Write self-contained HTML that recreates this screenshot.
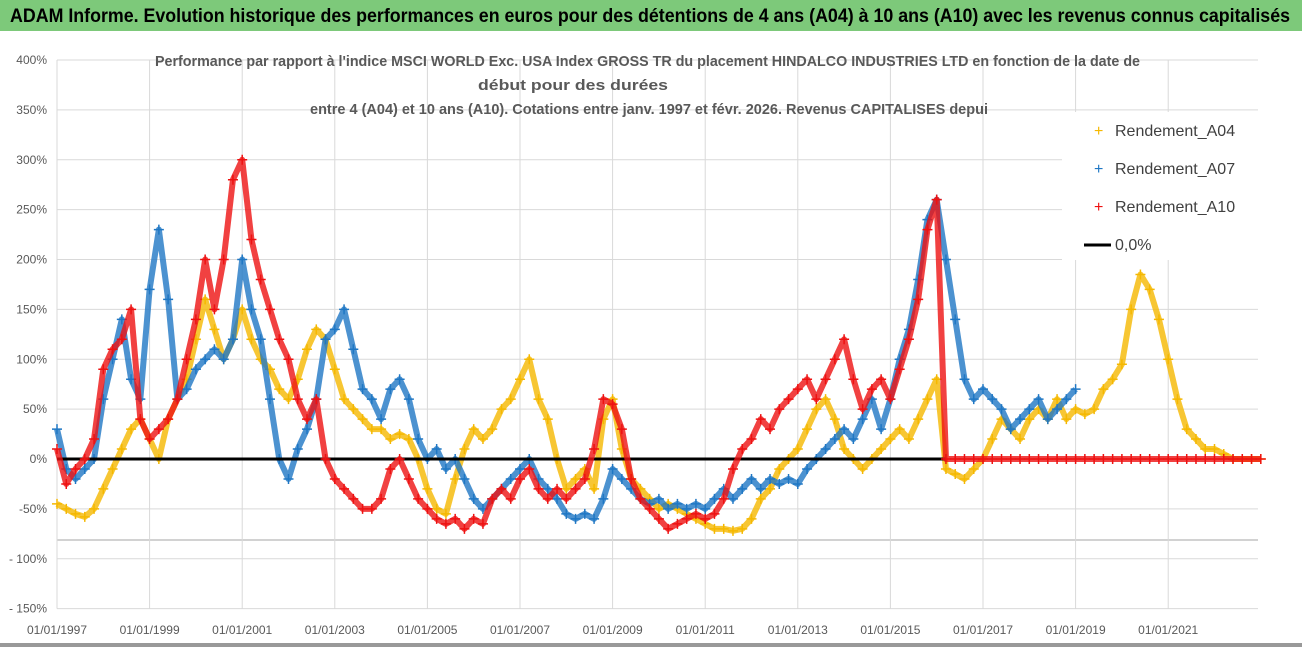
<!DOCTYPE html>
<html><head><meta charset="utf-8"><style>
body{margin:0;background:#fff;width:1302px;height:647px;overflow:hidden;font-family:"Liberation Sans Narrow","Liberation Sans",sans-serif}
</style></head><body>
<svg id="chart" width="1302" height="647" xmlns="http://www.w3.org/2000/svg" font-family="Liberation Sans Narrow, Liberation Sans, sans-serif">
<rect x="0" y="0" width="1302" height="647" fill="#fff"/>
<rect x="0" y="0" width="1302" height="31" fill="#7dc97a"/>
<text x="10" y="22" font-size="19" font-weight="bold" fill="#000" textLength="1280" lengthAdjust="spacingAndGlyphs">ADAM Informe. Evolution historique des performances en euros pour des détentions de 4 ans (A04) à 10 ans (A10) avec les revenus connus capitalisés</text>
<rect x="0" y="643" width="1302" height="4" fill="#999"/>
<g id="grid"></g>
<g id="yaxis"></g>
<g id="xaxis"></g>
<g id="series"></g>
<g font-size="15" font-weight="bold" fill="#595959">
<text x="155" y="66" textLength="985" lengthAdjust="spacingAndGlyphs">Performance par rapport à l'indice MSCI WORLD Exc. USA Index GROSS TR  du placement HINDALCO INDUSTRIES LTD en fonction de la date de</text>
<text x="478" y="90" textLength="190" lengthAdjust="spacingAndGlyphs">début pour des durées</text>
<text x="310" y="114" textLength="678" lengthAdjust="spacingAndGlyphs">entre 4 (A04) et 10 ans (A10). Cotations entre janv. 1997 et févr. 2026. Revenus CAPITALISES depui</text>
</g>
<g>
<rect x="1062" y="112" width="230" height="148" fill="#fff"/>
<g><text x="1094" y="136" font-size="16" fill="#f5b800">+</text><text x="1115" y="136" font-size="16" fill="#404040">Rendement_A04</text></g>
<g><text x="1094" y="174" font-size="16" fill="#1f77c4">+</text><text x="1115" y="174" font-size="16" fill="#404040">Rendement_A07</text></g>
<g><text x="1094" y="212" font-size="16" fill="#ee1111">+</text><text x="1115" y="212" font-size="16" fill="#404040">Rendement_A10</text></g>
<g><line x1="1084" y1="245" x2="1111" y2="245" stroke="#000" stroke-width="3"/><text x="1115" y="250" font-size="16" fill="#404040">0,0%</text></g>
</g>
</svg>
<script>
const startYear = 1997;
const stepYear = 0.2;
const yTicks = [400,350,300,250,200,150,100,50,0,-50,-100,-150];
const yTickLabels = ["400%","350%","300%","250%","200%","150%","100%","50%","0%","-50%","- 100%","- 150%"];
const xTickYears = [1997,1999,2001,2003,2005,2007,2009,2011,2013,2015,2017,2019,2021];
const xTickLabels = xTickYears.map(y=>"01/01/"+y);
const a04 = [-45,-50,-55,-58,-50,-30,-10,10,30,40,20,0,40,60,80,120,160,130,100,120,150,120,100,90,70,60,80,110,130,120,90,60,50,40,30,30,20,25,20,0,-30,-50,-55,-20,10,30,20,30,50,60,80,100,60,40,0,-30,-20,-10,-30,40,60,10,-20,-30,-40,-50,-45,-50,-55,-60,-65,-70,-70,-72,-70,-60,-40,-30,-10,0,10,30,50,60,40,10,0,-10,0,10,20,30,20,40,60,80,-10,-15,-20,-10,0,20,40,30,20,40,50,40,60,40,50,45,50,70,80,95,150,185,170,140,100,60,30,20,10,10,5,0,0,0,0];
const a07 = [30,-10,-20,-10,0,60,100,140,80,60,170,230,160,60,70,90,100,110,100,120,200,150,120,60,0,-20,10,30,60,120,130,150,110,70,60,40,70,80,60,20,0,10,-10,0,-20,-40,-50,-40,-30,-20,-10,0,-20,-30,-40,-55,-60,-55,-60,-40,-10,-20,-30,-40,-45,-40,-50,-45,-50,-45,-50,-40,-30,-40,-30,-20,-30,-20,-25,-20,-25,-10,0,10,20,30,20,40,60,30,60,100,130,180,240,260,200,140,80,60,70,60,50,30,40,50,60,40,50,60,70];
const a10 = [10,-25,-10,0,20,90,110,120,150,40,20,30,40,60,100,140,200,150,200,280,300,220,180,150,120,100,60,40,60,0,-20,-30,-40,-50,-50,-40,-10,0,-20,-40,-50,-60,-65,-60,-70,-60,-65,-40,-30,-40,-20,-10,-30,-40,-30,-40,-30,-20,10,60,55,30,-20,-40,-50,-60,-70,-65,-60,-55,-60,-55,-40,-10,10,20,40,30,50,60,70,80,60,80,100,120,80,50,70,80,60,90,120,160,230,260,0,0,0,0,0,0,0,0,0,0,0,0,0,0,0,0,0,0,0,0,0,0,0,0,0,0,0,0,0,0,0,0,0,0,0];

const NS="http://www.w3.org/2000/svg";
const X0=57, PXY=46.3, Y0=459, PXV=0.9975, XR=1258;
const xS = t => X0 + (t-startYear)*PXY;
const yS = v => Y0 - v*PXV;
function mk(tag, attrs, parent){const e=document.createElementNS(NS,tag);for(const k in attrs)e.setAttribute(k,attrs[k]);parent.appendChild(e);return e;}
const grid=document.getElementById('grid'), ya=document.getElementById('yaxis'), xa=document.getElementById('xaxis'), ser=document.getElementById('series');
yTicks.forEach((v,i)=>{
  const l=mk('line',{x1:X0,x2:XR,y1:yS(v),y2:yS(v),stroke:'#d9d9d9','stroke-width':1},grid);
  
  
  const t=mk('text',{x:47,y:yS(v)+4,'text-anchor':'end','font-size':12,fill:'#595959'},ya);
  t.textContent=yTickLabels[i];
  
  
});
const axl=mk('line',{x1:X0,x2:XR,y1:540,y2:540,stroke:'#a6a6a6','stroke-width':1},grid);


xTickYears.forEach((yr,i)=>{
  const l=mk('line',{x1:xS(yr),x2:xS(yr),y1:yS(400),y2:yS(-150),stroke:'#d9d9d9','stroke-width':1},grid);
  
  
  const t=mk('text',{x:xS(yr),y:634,'text-anchor':'middle','font-size':12,fill:'#595959'},xa);
  t.textContent=xTickLabels[i];
  
  
});
function drawSeries(arr,color,name){
  const g=mk('g',{},ser);
  
  
  const pts=arr.map((v,i)=>xS(startYear+i*stepYear)+','+yS(v)).join(' ');
  mk('polyline',{points:pts,fill:'none',stroke:color,'stroke-width':6,'stroke-opacity':0.8,'stroke-linejoin':'round'},g);
  arr.forEach((v,i)=>{
    const x=xS(startYear+i*stepYear), y=yS(v);
    const p=mk('path',{d:`M${x-5},${y}H${x+5}M${x},${y-5}V${y+5}`,stroke:color,'stroke-width':1.5},g);
    
    
  });
}
drawSeries(a04,'#f5b800','series-a04');
drawSeries(a07,'#1f77c4','series-a07');
const zl=mk('line',{x1:X0,x2:xS(2016.2),y1:yS(0),y2:yS(0),stroke:'#000','stroke-width':3},ser);


drawSeries(a10,'#ee1111','series-a10');
</script>
</body></html>
